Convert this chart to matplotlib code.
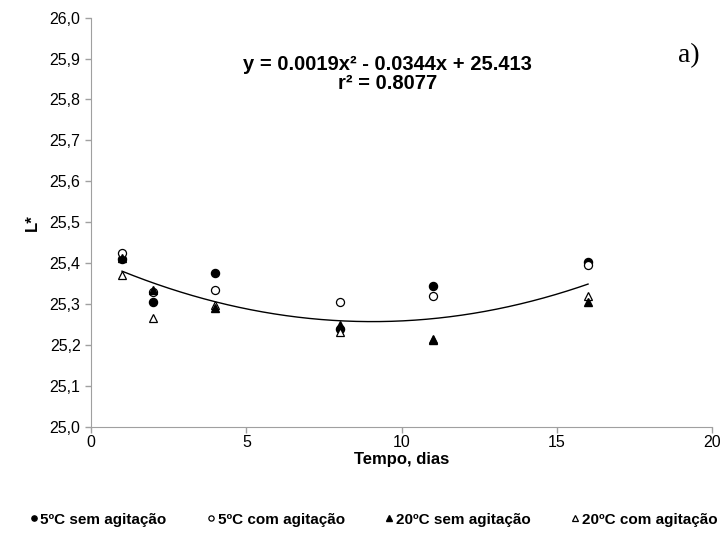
import matplotlib

matplotlib.use("Agg")
import matplotlib.pyplot as plt
import numpy as np
from matplotlib.ticker import FuncFormatter

plt.rcParams.update({
    "font.family": ["Liberation Sans", "DejaVu Sans"],
    "axes.edgecolor": "#a0a0a0",
    "xtick.color": "#a0a0a0", "ytick.color": "#a0a0a0",
    "xtick.labelcolor": "black", "ytick.labelcolor": "black",
})

days = [1, 2, 4, 8, 11, 16]
l_5_sem = [25.41, 25.304, 25.376, 25.24, 25.345, 25.404]
l_5_com = [25.425, 25.33, 25.335, 25.306, 25.32, 25.396]
l_20_sem = [25.412, 25.334, 25.29, 25.25, 25.213, 25.306]
l_20_com = [25.37, 25.266, 25.297, 25.232, 25.215, 25.32]

coef = [0.0019, -0.0344, 25.413]
fit_x = np.linspace(1, 16, 200)

fig = plt.figure(figsize=(7.25, 5.33), dpi=100)
ax = fig.add_axes([0.1255, 0.199, 0.857, 0.768])

ax.plot(fit_x, np.polyval(coef, fit_x), color="black", lw=1.0, zorder=1)

ms = 5.8
ax.plot(days, l_5_sem, "o", color="black", ms=ms, label="5ºC sem agitação", zorder=3)
ax.plot(days, l_5_com, "o", mfc="white", mec="black", mew=0.9, ms=ms,
        label="5ºC com agitação", zorder=4)
ax.plot(days, l_20_sem, "^", color="black", ms=ms, label="20ºC sem agitação", zorder=6)
ax.plot(days, l_20_com, "^", mfc="white", mec="black", mew=0.9, ms=ms,
        label="20ºC com agitação", zorder=5)

ax.set_xlim(0, 20)
ax.set_ylim(25.0, 26.0)
ax.set_xticks([0, 5, 10, 15, 20])
ax.set_yticks(np.round(np.arange(25.0, 26.01, 0.1), 1))
ax.yaxis.set_major_formatter(FuncFormatter(lambda v, p: f"{v:.1f}".replace(".", ",")))
ax.tick_params(labelsize=11.5, length=4, width=1)
ax.tick_params(axis="x", pad=2)
for s in ("top", "right"):
    ax.spines[s].set_visible(False)

ax.set_xlabel("Tempo, dias", fontsize=12, fontweight="bold", labelpad=1)
ax.set_ylabel("L*", fontsize=12, fontweight="bold", labelpad=7)

ax.text(0.477, 0.863, "y = 0.0019x² - 0.0344x + 25.413\nr² = 0.8077",
        transform=ax.transAxes, ha="center", va="center", fontsize=14.5,
        fontweight="bold", linespacing=1.0)
ax.text(0.962, 0.908, "a)", transform=ax.transAxes, ha="center", va="center",
        fontsize=20, family="Liberation Serif")

fig.legend(loc="lower center", bbox_to_anchor=(0.515, -0.014), ncol=4, frameon=False,
           prop={"weight": "bold", "size": 11}, markerscale=0.65,
           handlelength=0.6, handletextpad=0.15, columnspacing=2.6)

fig.savefig("out.png", dpi=100)
